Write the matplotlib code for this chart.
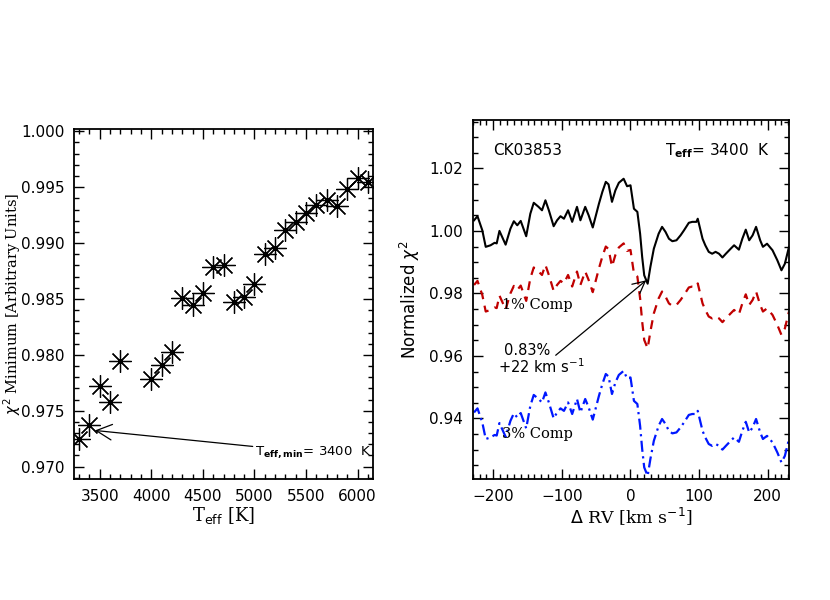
import numpy as np
import matplotlib
matplotlib.use("Agg")
import matplotlib.pyplot as plt
from matplotlib.ticker import MultipleLocator

# left panel: chi2 minimum vs Teff
teff = [3300, 3400, 3500, 3600, 3700, 4000, 4100, 4200, 4300, 4400, 4500, 4600, 4700,
        4800, 4900, 5000, 5100, 5200, 5300, 5400, 5500, 5600, 5700, 5800, 5900, 6000, 6100]
chi_min = [0.97250, 0.97376, 0.97726, 0.97579, 0.97941, 0.97785, 0.97912, 0.98024, 0.98509,
           0.98444, 0.98550, 0.98785, 0.98803, 0.98476, 0.98521, 0.98632, 0.98903, 0.98956,
           0.99118, 0.99185, 0.99271, 0.99338, 0.99382, 0.99329, 0.99479, 0.99579, 0.99550]

# right panel: normalized chi2 vs delta RV
rv = [-228, -223, -216, -211, -204, -198, -195, -191, -182, -175, -170, -165, -160, -152,
      -146, -141, -134, -129, -124, -119, -112, -107, -102, -97, -91, -85, -78, -73, -66,
      -61, -55, -46, -41, -36, -32, -27, -22, -17, -10, -5, 0, 5, 10, 14, 17, 20, 25, 29,
      34, 41, 46, 51, 56, 61, 67, 73, 78, 85, 90, 96, 98, 105, 109, 114, 119, 124, 129,
      134, 139, 146, 151, 158, 163, 168, 173, 178, 183, 189, 193, 199, 207, 214, 220, 225, 231]
chi_0 = [1.0034, 1.0047, 1.0002, 0.9949, 0.9954, 0.9962, 0.9960, 1.0000, 0.9956, 1.0007,
         1.0031, 1.0018, 1.0032, 0.9983, 1.0055, 1.0090, 1.0077, 1.0066, 1.0098, 1.0066,
         1.0015, 1.0034, 1.0047, 1.0039, 1.0066, 1.0029, 1.0077, 1.0034, 1.0077, 1.0050,
         1.0011, 1.0087, 1.0125, 1.0157, 1.0149, 1.0093, 1.0130, 1.0154, 1.0167, 1.0143,
         1.0146, 1.0071, 1.0061, 0.9991, 0.9917, 0.9858, 0.9831, 0.9885, 0.9943, 0.9991,
         1.0013, 0.9997, 0.9975, 0.9967, 0.9970, 0.9986, 1.0002, 1.0026, 1.0029, 1.0029,
         1.0039, 0.9975, 0.9954, 0.9933, 0.9927, 0.9933, 0.9927, 0.9915, 0.9927, 0.9943,
         0.9954, 0.9940, 0.9975, 1.0004, 0.9970, 0.9986, 1.0013, 0.9970, 0.9949, 0.9959,
         0.9938, 0.9906, 0.9874, 0.9895, 0.9949]
chi_1 = [0.9827, 0.9840, 0.9795, 0.9742, 0.9747, 0.9755, 0.9753, 0.9793, 0.9749, 0.9800,
         0.9824, 0.9811, 0.9825, 0.9776, 0.9848, 0.9883, 0.9870, 0.9859, 0.9891, 0.9859,
         0.9808, 0.9827, 0.9840, 0.9832, 0.9859, 0.9822, 0.9870, 0.9827, 0.9870, 0.9843,
         0.9804, 0.9880, 0.9918, 0.9950, 0.9942, 0.9886, 0.9923, 0.9947, 0.9960, 0.9936,
         0.9939, 0.9864, 0.9854, 0.9784, 0.9710, 0.9651, 0.9624, 0.9678, 0.9736, 0.9784,
         0.9806, 0.9790, 0.9768, 0.9760, 0.9763, 0.9779, 0.9795, 0.9819, 0.9822, 0.9822,
         0.9832, 0.9768, 0.9747, 0.9726, 0.9720, 0.9726, 0.9720, 0.9708, 0.9720, 0.9736,
         0.9747, 0.9733, 0.9768, 0.9797, 0.9763, 0.9779, 0.9806, 0.9763, 0.9742, 0.9752,
         0.9731, 0.9699, 0.9667, 0.9688, 0.9742]
chi_3 = [0.9419, 0.9432, 0.9387, 0.9334, 0.9339, 0.9347, 0.9345, 0.9385, 0.9341, 0.9392,
         0.9416, 0.9403, 0.9417, 0.9368, 0.9440, 0.9475, 0.9462, 0.9451, 0.9483, 0.9451,
         0.9400, 0.9419, 0.9432, 0.9424, 0.9451, 0.9414, 0.9462, 0.9419, 0.9462, 0.9435,
         0.9396, 0.9472, 0.9510, 0.9542, 0.9534, 0.9478, 0.9515, 0.9539, 0.9552, 0.9528,
         0.9531, 0.9456, 0.9446, 0.9376, 0.9302, 0.9243, 0.9216, 0.9270, 0.9328, 0.9376,
         0.9398, 0.9382, 0.9360, 0.9352, 0.9355, 0.9371, 0.9387, 0.9411, 0.9414, 0.9414,
         0.9424, 0.9360, 0.9339, 0.9318, 0.9312, 0.9318, 0.9312, 0.9300, 0.9312, 0.9328,
         0.9339, 0.9325, 0.9360, 0.9389, 0.9355, 0.9371, 0.9398, 0.9355, 0.9334, 0.9344,
         0.9323, 0.9291, 0.9259, 0.9280, 0.9334]

serif = "DejaVu Serif"
sans = "DejaVu Sans"


def idl_ticks(ax):
    ax.tick_params(which="both", direction="in", top=True, right=True, width=1.0)
    ax.tick_params(which="major", length=7, labelsize=11, pad=7)
    ax.tick_params(which="minor", length=3.5)
    for s in ax.spines.values():
        s.set_linewidth(1.3)


fig = plt.figure(figsize=(8.3, 6.0), dpi=100)

# ---- left panel
ax1 = fig.add_axes([0.0892, 0.2017, 0.3602, 0.5833])
ax1.plot(teff, chi_min, linestyle="none", marker=(8, 2, 0), markersize=16,
         markeredgewidth=0.9, color="black")
ax1.plot(teff, chi_min, linestyle="none", marker="o", markersize=2.5, color="black")
ax1.set_xlim(3250, 6150)
ax1.set_ylim(0.9689, 1.0002)
ax1.xaxis.set_major_locator(MultipleLocator(500))
ax1.xaxis.set_minor_locator(MultipleLocator(100))
ax1.yaxis.set_major_locator(MultipleLocator(0.005))
ax1.yaxis.set_minor_locator(MultipleLocator(0.001))
ax1.yaxis.set_major_formatter(matplotlib.ticker.FormatStrFormatter("%.3f"))
idl_ticks(ax1)
ax1.set_xlabel(r"T$_{\rm eff}$ [K]", family=serif, fontsize=13, labelpad=1)
ax1.set_ylabel(r"$\chi^2$ Minimum [Arbitrary Units]", family=serif, fontsize=10.5)
ax1.yaxis.set_label_coords(-0.17, 0.5)
ax1.annotate(r"T$_{\mathbf{eff,min}}$= 3400  K", xy=(3452, 0.97324), xytext=(5010, 0.97126),
             fontsize=9.5, family=sans, va="center", ha="left",
             arrowprops=dict(arrowstyle="->", color="black", lw=0.9,
                             mutation_scale=28, shrinkA=0, shrinkB=0))

# ---- right panel
ax2 = fig.add_axes([0.5695, 0.2017, 0.3811, 0.5983])
ax2.plot(rv, chi_0, color="black", lw=1.5)
ax2.plot(rv, chi_1, color="#c00000", lw=1.6, linestyle=(0, (4, 3)))
ax2.plot(rv, chi_3, color="#0018ff", lw=1.6, linestyle=(0, (5, 2, 1, 2)))
ax2.set_xlim(-230, 231)
ax2.set_ylim(0.9206, 1.0355)
ax2.xaxis.set_major_locator(MultipleLocator(100))
ax2.xaxis.set_minor_locator(MultipleLocator(10))
ax2.yaxis.set_major_locator(MultipleLocator(0.02))
ax2.yaxis.set_minor_locator(MultipleLocator(0.005))
ax2.yaxis.set_major_formatter(matplotlib.ticker.FormatStrFormatter("%.2f"))
ax2.xaxis.set_major_formatter(matplotlib.ticker.FuncFormatter(
    lambda v, p: ("\u2212%d" % -v) if v < 0 else "%d" % v))
idl_ticks(ax2)
ax2.set_xlabel(r"$\Delta$ RV [km s$^{-1}$]", family=serif, fontsize=12.5, labelpad=1)
ax2.set_ylabel(r"Normalized $\chi^2$", family=sans, fontsize=12)
ax2.yaxis.set_label_coords(-0.16, 0.5)

ax2.text(-200, 1.0256, "CK03853", fontsize=11, family=sans, va="center")
ax2.text(51, 1.0256, r"T$_{\mathbf{eff}}$= 3400  K", fontsize=11, family=sans, va="center")
ax2.text(-187, 0.9762, "1% Comp", fontsize=10.5, family=serif, va="center")
ax2.text(-187, 0.9351, "3% Comp", fontsize=10.5, family=serif, va="center")
ax2.text(-151, 0.9616, "0.83%", fontsize=10.5, family=sans, va="center", ha="center")
ax2.text(-193, 0.9567, r"+22 km s$^{-1}$", fontsize=10.5, family=sans, va="center", ha="left")
ax2.annotate("", xy=(23, 0.9842), xytext=(-109, 0.9602),
             arrowprops=dict(arrowstyle="->", color="black", lw=0.9,
                             mutation_scale=22, shrinkA=0, shrinkB=0))

fig.savefig("out.png", dpi=100)
